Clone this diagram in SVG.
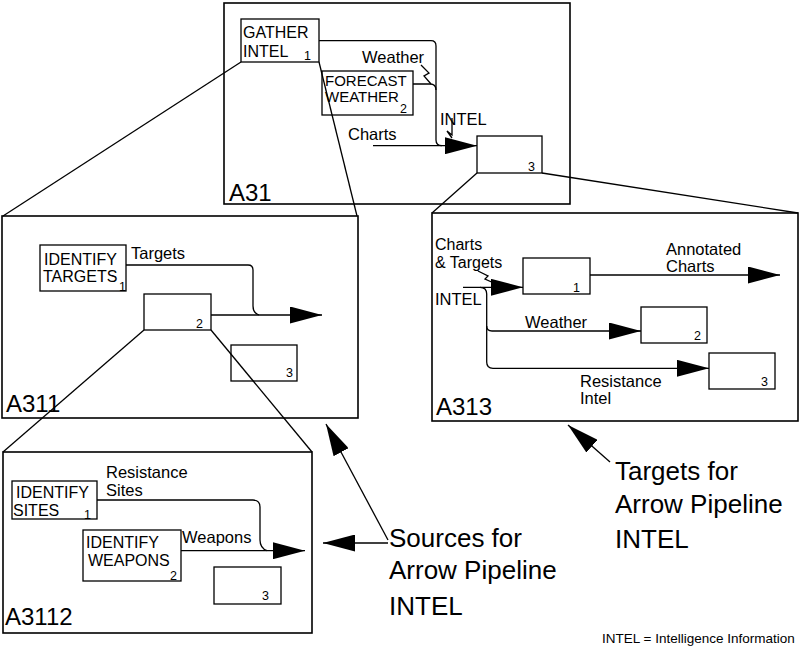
<svg xmlns="http://www.w3.org/2000/svg" width="800" height="650" viewBox="0 0 800 650">
<style>
text{font-family:"Liberation Sans",Arial,sans-serif;fill:#000}
.frame{fill:#fff;stroke:#000;stroke-width:1.6}
.box{fill:#fff;stroke:#000;stroke-width:1.3}
.bt{font-size:16px}
.bt2{font-size:15px}
.lb{font-size:16.5px}
.lbs{font-size:16px}
.num{font-size:12.5px}
.fl{font-size:24px}
.big{font-size:26px}
.note{font-size:13.5px}
.ln{fill:none;stroke:#000;stroke-width:1.3}
.arr{marker-end:url(#ah)}
</style>
<defs>
<marker id="ah" markerUnits="userSpaceOnUse" viewBox="0 0 32 17" markerWidth="32" markerHeight="17" refX="32" refY="8.5" orient="auto">
<path d="M0,0 L32,8.5 L0,17 z" fill="#000"/>
</marker>
</defs>

<g id="A31">
<rect class="frame" x="224" y="3" width="346" height="201"/>
<text class="fl" x="229" y="201">A31</text>
<g id="A31-1"><rect class="box" x="241" y="19" width="78" height="43"/><text class="bt" x="243" y="38">GATHER</text><text class="bt" x="243" y="57">INTEL</text><text class="num" x="304" y="60">1</text></g>
<g id="A31-2"><rect class="box" x="322" y="71" width="91" height="44"/><text class="bt2" x="325" y="86">FORECAST</text><text class="bt2" x="325" y="102">WEATHER</text><text class="num" x="400" y="113">2</text></g>
<g id="A31-3"><rect class="box" x="477" y="136" width="65" height="37"/><text class="num" x="528" y="171">3</text></g>
<text class="lb" x="362" y="63">Weather</text>
<text class="lb" x="348" y="140">Charts</text>
<text class="lb" x="440" y="125">INTEL</text>
</g>

<g id="A311">
<rect class="frame" x="2" y="216" width="356" height="202"/>
<text class="fl" x="6" y="412">A311</text>
<g id="A311-1"><rect class="box" x="40" y="245" width="86" height="46"/><text class="bt" x="44" y="265">IDENTIFY</text><text class="bt" x="43" y="282">TARGETS</text><text class="num" x="119" y="291">1</text></g>
<g id="A311-2"><rect class="box" x="144" y="294" width="67" height="36"/><text class="num" x="196" y="328">2</text></g>
<g id="A311-3"><rect class="box" x="231" y="345" width="66" height="36"/><text class="num" x="286" y="377">3</text></g>
<text class="lb" x="131" y="259">Targets</text>
</g>

<g id="A313">
<rect class="frame" x="432" y="213" width="366" height="208"/>
<text class="fl" x="436" y="415">A313</text>
<g id="A313-1"><rect class="box" x="523" y="258" width="67" height="36"/><text class="num" x="573" y="292">1</text></g>
<g id="A313-2"><rect class="box" x="641" y="307" width="66" height="36"/><text class="num" x="694" y="340">2</text></g>
<g id="A313-3"><rect class="box" x="709" y="353" width="66" height="36"/><text class="num" x="761" y="386">3</text></g>
<text class="lbs" x="435" y="250">Charts</text>
<text class="lbs" x="435" y="268">&amp; Targets</text>
<text class="lb" x="435" y="305">INTEL</text>
<text class="lb" x="666" y="255">Annotated</text>
<text class="lb" x="666" y="272">Charts</text>
<text class="lb" x="525" y="328">Weather</text>
<text class="lb" x="580" y="387">Resistance</text>
<text class="lb" x="580" y="404">Intel</text>
</g>

<g id="A3112">
<rect class="frame" x="3" y="452" width="309" height="181"/>
<text class="fl" x="5" y="625">A3112</text>
<g id="A3112-1"><rect class="box" x="12" y="481" width="85" height="38"/><text class="bt" x="16" y="498">IDENTIFY</text><text class="bt" x="13" y="516">SITES</text><text class="num" x="84" y="519">1</text></g>
<g id="A3112-2"><rect class="box" x="83" y="530" width="98" height="51"/><text class="bt" x="86" y="548">IDENTIFY</text><text class="bt" x="88" y="566">WEAPONS</text><text class="num" x="170" y="580">2</text></g>
<g id="A3112-3"><rect class="box" x="214" y="567" width="67" height="37"/><text class="num" x="262" y="600">3</text></g>
<text class="lb" x="106" y="478">Resistance</text>
<text class="lb" x="106" y="496">Sites</text>
<text class="lb" x="182" y="543">Weapons</text>
</g>

<g id="annotations">
<text class="big" x="389" y="547">Sources for</text>
<text class="big" x="389" y="579">Arrow Pipeline</text>
<text class="big" x="389" y="615">INTEL</text>
<text class="big" x="615" y="480">Targets for</text>
<text class="big" x="615" y="513">Arrow Pipeline</text>
<text class="big" x="615" y="548">INTEL</text>
<text class="note" x="602" y="643">INTEL = Intelligence Information</text>
</g>

<g id="connectors">
<!-- A31 -->
<path class="ln" d="M319,40.7 H431 Q436,40.7 436,46 V140 Q436,145.7 442,145.7"/>
<path class="ln" d="M413,84 H430 Q436,84 436,90"/>
<path class="ln arr" d="M373,145.7 H477"/>
<path class="ln" d="M421,65 L429,73 L424,76 L431,84"/>
<path class="ln" d="M452,118 V135 L447,131 L452,138"/>
<!-- A311 -->
<path class="ln" d="M126,265 H248 Q253,265 253,270 V306 Q253,313 259,315"/>
<path class="ln arr" d="M211,315 H322"/>
<!-- A313 -->
<path class="ln arr" d="M463,287.3 H523"/>
<path class="ln" d="M480,287.3 Q486.7,287.3 486.7,294 V362 Q486.7,368.3 493,368.3"/>
<path class="ln arr" d="M486.7,326 Q486.7,331 492,331 H641"/>
<path class="ln arr" d="M493,368.3 H709"/>
<path class="ln arr" d="M590,275 H780"/>
<path class="ln" d="M478,271 L488,276 L485,279 L496,284"/>
<!-- A3112 -->
<path class="ln" d="M97,500 H253 Q260,500 260,507 V540 Q260,548 267,550.7"/>
<path class="ln arr" d="M181,550.7 H305"/>
<!-- projection lines -->
<path class="ln" d="M241,62 L3,216"/>
<path class="ln" d="M319,62 L357,216"/>
<path class="ln" d="M477,173 L432,213"/>
<path class="ln" d="M542,173 L798,213"/>
<path class="ln" d="M144,330 L3,452"/>
<path class="ln" d="M211,330 L312,452"/>
<!-- pointer arrows -->
<path class="ln arr" d="M388,543 H323"/>
<path class="ln arr" d="M388,540 L326,424"/>
<path class="ln arr" d="M610,462 L568,425"/>
</g>
</svg>
